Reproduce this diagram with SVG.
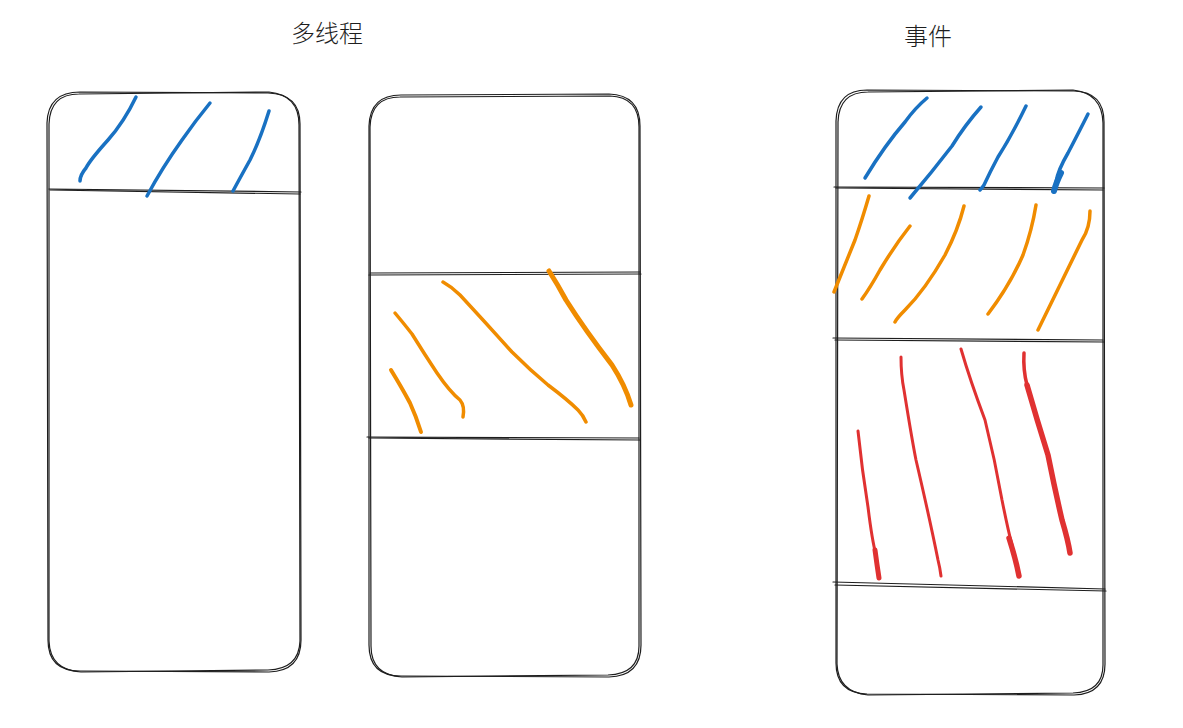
<svg xmlns="http://www.w3.org/2000/svg" width="1183" height="728" viewBox="0 0 1183 728">
<style>
.o{fill:none;stroke:#1e1e1e;stroke-width:1.2;stroke-linecap:round;stroke-linejoin:round}
.b{fill:none;stroke:#1971c2;stroke-linecap:round;stroke-linejoin:round}
.y{fill:none;stroke:#f08c00;stroke-linecap:round;stroke-linejoin:round}
.r{fill:none;stroke:#e03131;stroke-linecap:round;stroke-linejoin:round}
.t{font-family:"Noto Sans CJK SC","Noto Sans",sans-serif;font-size:24px;font-weight:300;fill:#1e1e1e;text-anchor:middle}
</style>
<rect width="1183" height="728" fill="#fff"/>
<g id="title-multithread"><text class="t" x="327" y="42">多线程</text></g>
<g id="title-event"><text class="t" x="928" y="45">事件</text></g>

<g id="phone1">
<path class="o" d="M80 92 L268 93 Q300 94 300 124 L301 640 Q301 671 269 672 L80 671 Q48 671 48 640 L47 123 Q48 92 80 92 Z"/>
<path class="o" d="M79 94 L269 92 Q299 95 299 125 L300 641 Q299 669 268 670 L81 672 Q50 670 49 641 L49 124 Q50 94 79 94"/>
<path class="o" d="M49 189 L301 192 M50 190 L300 194"/>
<path class="b" stroke-width="3.5" d="M136 97 Q124 122 108 140 Q90 160 86 168 Q80 175 80 181"/>
<path class="b" stroke-width="3.5" d="M210 103 Q196 120 182 140 Q162 168 147 196"/>
<path class="b" stroke-width="3.5" d="M269 111 Q260 140 250 160 Q240 178 233 191"/>
</g>

<g id="phone2">
<path class="o" d="M401 95 L609 94 Q640 95 640 126 L641 645 Q641 676 609 677 L401 676 Q369 676 369 645 L369 126 Q370 95 401 95 Z"/>
<path class="o" d="M400 97 L610 96 Q639 97 639 127 L639 646 Q639 674 608 675 L402 677 Q371 675 371 646 L370 127 Q371 97 400 97"/>
<path class="o" d="M370 273 L640 272 M369 275 L641 274"/>
<path class="o" d="M367 437 L639 438 M369 438 L640 440"/>
<path class="y" stroke-width="3.5" d="M395 313 Q405 325 412 334 Q425 355 437 373 Q450 392 460 400 Q465 406 463 417"/>
<path class="y" stroke-width="4" d="M391 370 Q402 388 410 403 Q416 416 421 432"/>
<path class="y" stroke-width="3.5" d="M443 282 Q452 287 460 295 Q485 322 512 352 Q530 370 548 385 Q568 400 578 410 Q583 415 586 422"/>
<path class="y" stroke-width="5" d="M549 271 Q558 285 566 300 Q585 330 612 365 Q625 385 631 405"/>
</g>

<g id="phone3">
<path class="o" d="M867 90 L1074 91 Q1104 92 1104 122 L1105 664 Q1105 694 1074 695 L867 694 Q836 693 836 663 L836 121 Q837 90 867 90 Z"/>
<path class="o" d="M868 92 L1073 90 Q1102 93 1103 123 L1103 665 Q1103 692 1073 693 L868 695 Q838 692 837 664 L838 122 Q839 92 868 92"/>
<path class="o" d="M834 187 L1104 188 M836 188 L1103 190"/>
<path class="o" d="M833 338 L1103 340 M835 340 L1104 342"/>
<path class="o" d="M833 582 L1105 589 M835 585 L1106 591"/>
<path class="b" stroke-width="3.5" d="M927 98 Q915 108 905 122 Q885 145 865 178"/>
<path class="b" stroke-width="3.5" d="M981 107 Q965 125 952 146 Q932 172 910 198"/>
<path class="b" stroke-width="3.5" d="M1026 106 Q1012 135 998 157 Q990 172 984 185 Q982 188 980 190"/>
<path class="b" stroke-width="3.5" d="M1088 114 Q1080 130 1068 153 Q1058 170 1056 182"/>
<path class="b" stroke-width="6" d="M1061 173 Q1056 183 1054 191"/>
<path class="y" stroke-width="3.5" d="M869 196 Q862 220 855 240 Q845 265 834 292"/>
<path class="y" stroke-width="3.5" d="M910 226 Q895 245 880 270 Q870 288 862 299"/>
<path class="y" stroke-width="3.5" d="M964 206 Q958 230 945 255 Q925 290 905 310 Q897 318 895 322"/>
<path class="y" stroke-width="3.5" d="M1036 205 Q1032 230 1023 255 Q1010 285 988 314"/>
<path class="y" stroke-width="3.5" d="M1090 211 Q1090 228 1082 240 Q1060 285 1038 330"/>
<path class="r" stroke-width="3" d="M858 431 Q862 470 868 507 Q872 540 876 555"/>
<path class="r" stroke-width="5" d="M875 550 Q877 565 879 578"/>
<path class="r" stroke-width="3" d="M901 357 Q901 375 904 390 Q912 440 916 460 Q930 520 938 560 Q940 568 941 576"/>
<path class="r" stroke-width="3" d="M961 349 Q970 380 985 420 Q995 460 1002 500 Q1008 530 1012 545"/>
<path class="r" stroke-width="5.5" d="M1009 538 Q1016 560 1019 576"/>
<path class="r" stroke-width="3.5" d="M1024 353 Q1023 370 1027 385"/>
<path class="r" stroke-width="5.5" d="M1027 385 Q1037 420 1048 455 Q1055 490 1062 520 Q1068 540 1070 553"/>
</g>
</svg>
